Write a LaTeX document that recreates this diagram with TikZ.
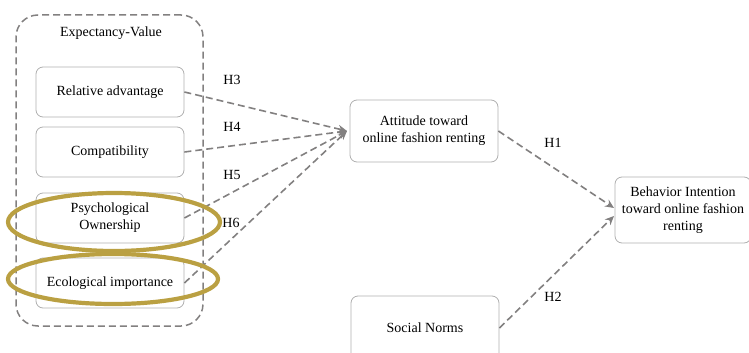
\documentclass[tikz,border=0pt]{standalone}
\usepackage{fontspec}
\setmainfont{Liberation Serif}
\usetikzlibrary{arrows.meta}
\definecolor{boxline}{RGB}{175,175,175}
\definecolor{dashline}{RGB}{130,128,128}
\definecolor{goldring}{RGB}{186,160,66}

\begin{document}
\begin{tikzpicture}[x=1pt, y=-1pt,
      var/.style={draw=boxline, line width=0.8pt, rounded corners=7pt,
                  minimum width=148pt, minimum height=50pt,
                  inner sep=2pt, align=center,
                  font=\fontsize{14}{17}\selectfont},
      group/.style={draw=dashline, line width=1.5pt, dash pattern=on 7pt off 4pt,
                  rounded corners=22pt, minimum width=187pt, minimum height=311pt},
      hyp/.style={draw=dashline, line width=1.6pt, dash pattern=on 7pt off 4pt,
                  -{Stealth[length=9pt, width=8pt]}},
      hlbl/.style={font=\fontsize{14}{17}\selectfont},
      ring/.style={draw=goldring, line width=4.2pt},
    ]
    \useasboundingbox (0,0) rectangle (749,353);
    \clip (0,0) rectangle (749,353);

    %% expectancy-value group
    \node[group] (ev) at (109.5,170.5) {};
    \node[hlbl] (evt) at (111,33) {Expectancy-Value};
    \node[var] (ra) at (110,92) {Relative advantage};
    \node[var] (cp) at (110,152) {Compatibility};
    \node[var] (po) at (110,218) {Psychological\\Ownership};
    \node[var] (ei) at (110,283) {Ecological importance};

    %% other constructs
    \node[var, minimum height=62pt] (att) at (424,131) {Attitude toward\\online fashion renting};
    \node[var, minimum width=136pt, minimum height=66pt] (bi) at (683,210)
      {Behavior Intention\\toward online fashion\\renting};
    \node[var, minimum height=64pt] (sn) at (425,328) {Social Norms};

    \coordinate (att-in) at (347,131);
    \coordinate (bi-a) at (614,208);
    \coordinate (bi-b) at (614,216);

    %% hypotheses
    \foreach \src in {ra,cp,po,ei}
      \draw[hyp] (\src.east) -- (att-in);
    \draw[hyp] (att.east) -- (bi-a);
    \draw[hyp] (sn.east) -- (bi-b);

    \node[hlbl] (h3) at (232,80) {H3};
    \node[hlbl] (h4) at (232,127) {H4};
    \node[hlbl] (h5) at (232,175) {H5};
    \node[hlbl] (h6) at (231,223) {H6};
    \node[hlbl] (h1) at (553,143) {H1};
    \node[hlbl] (h2) at (553,297) {H2};

    %% gold highlight rings
    \draw[ring] (114,222) ellipse [x radius=106pt, y radius=29pt];
    \draw[ring] (113,279) ellipse [x radius=105pt, y radius=25pt];
\end{tikzpicture}
\end{document}
